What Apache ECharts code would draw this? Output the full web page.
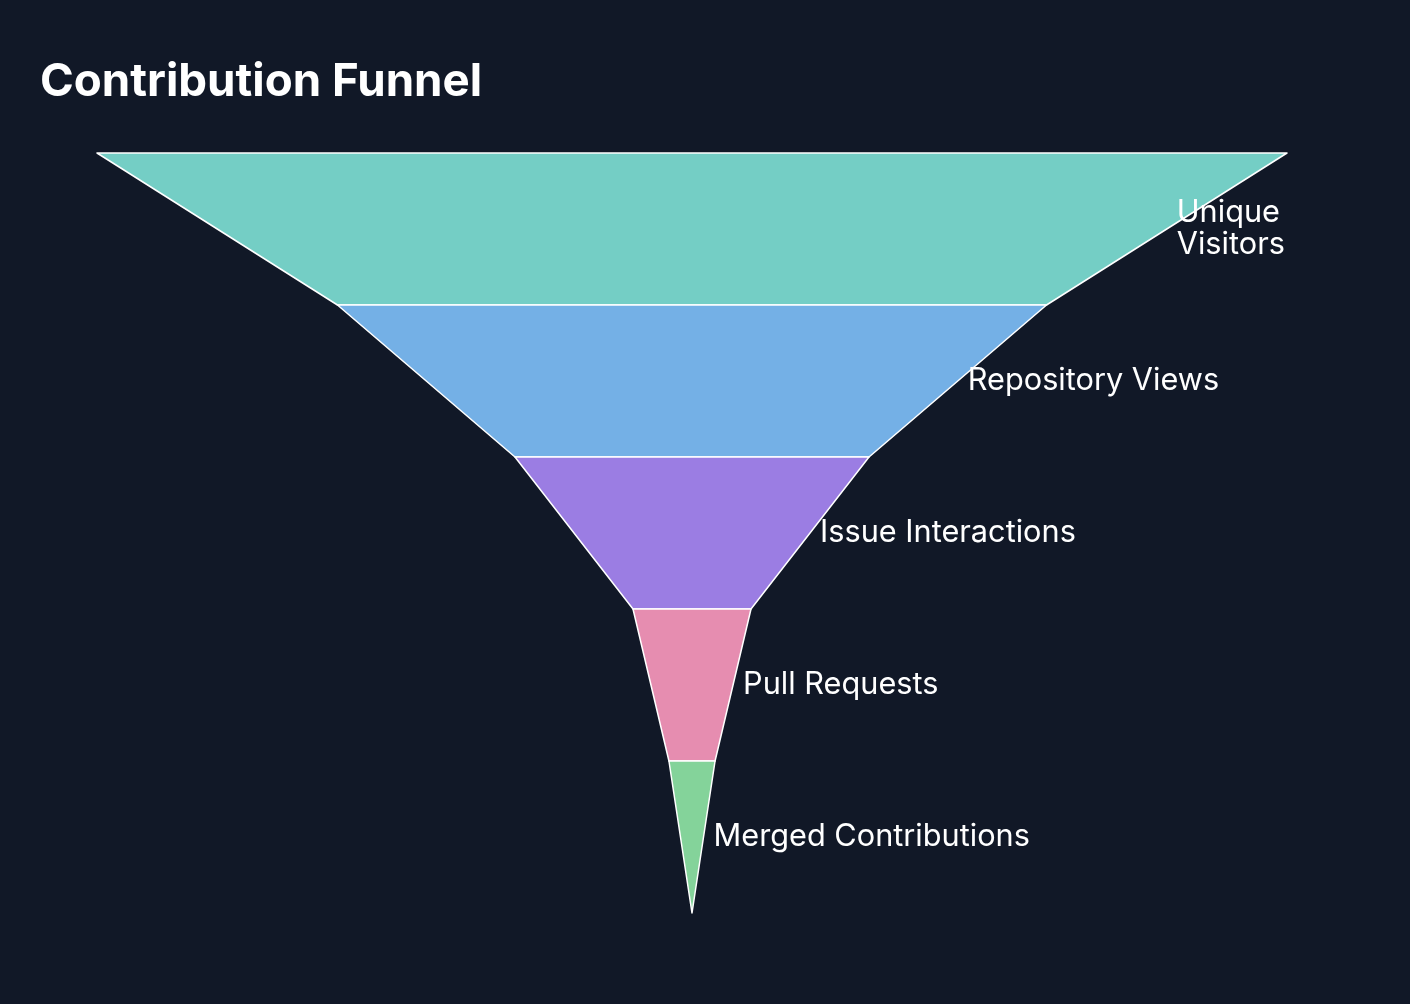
<!DOCTYPE html>
<html>
<head>
<meta charset="utf-8">
<script src="https://cdn.jsdelivr.net/npm/echarts@6/dist/echarts.min.js"></script>
<style>
html,body{margin:0;padding:0;background:#111827;}
#chart{width:1410px;height:1004px;}
</style>
</head>
<body>
<div id="chart"></div>
<script>
const titleText = 'Contribution Funnel';
const stages = ['Unique Visitors', 'Repository Views', 'Issue Interactions', 'Pull Requests', 'Merged Contributions'];
const counts = [12000, 7150, 3570, 1190, 465];
const colors = ['#74CEC5', '#74B0E6', '#9B7DE3', '#E68DB0', '#84D39A'];

const chart = echarts.init(document.getElementById('chart'));
const data = stages.map((s, i) => {
  const item = { name: s, value: counts[i], itemStyle: { color: colors[i] } };
  if (i === 0) item.label = { width: 150, overflow: 'break' };
  return item;
});
chart.setOption({
  backgroundColor: '#111827',
  title: {
    text: titleText,
    left: 35,
    top: 54,
    textStyle: { color: '#ffffff', fontFamily: 'Inter', fontWeight: 'bold', fontSize: 45.7 }
  },
  series: [{
    type: 'funnel',
    left: 97,
    top: 153,
    width: 1190,
    height: 760,
    min: 0,
    max: counts[0],
    minSize: '0%',
    maxSize: '100%',
    sort: 'descending',
    gap: 0,
    label: {
      show: true,
      position: 'right',
      color: '#ffffff',
      fontFamily: 'Inter',
      fontSize: 30.7,
      lineHeight: 32,
      offset: [1, 2]
    },
    labelLine: { show: false, length: 5 },
    itemStyle: { borderColor: '#ffffff', borderWidth: 1.5 },
    emphasis: { disabled: true },
    data: data
  }]
});
</script>
</body>
</html>
